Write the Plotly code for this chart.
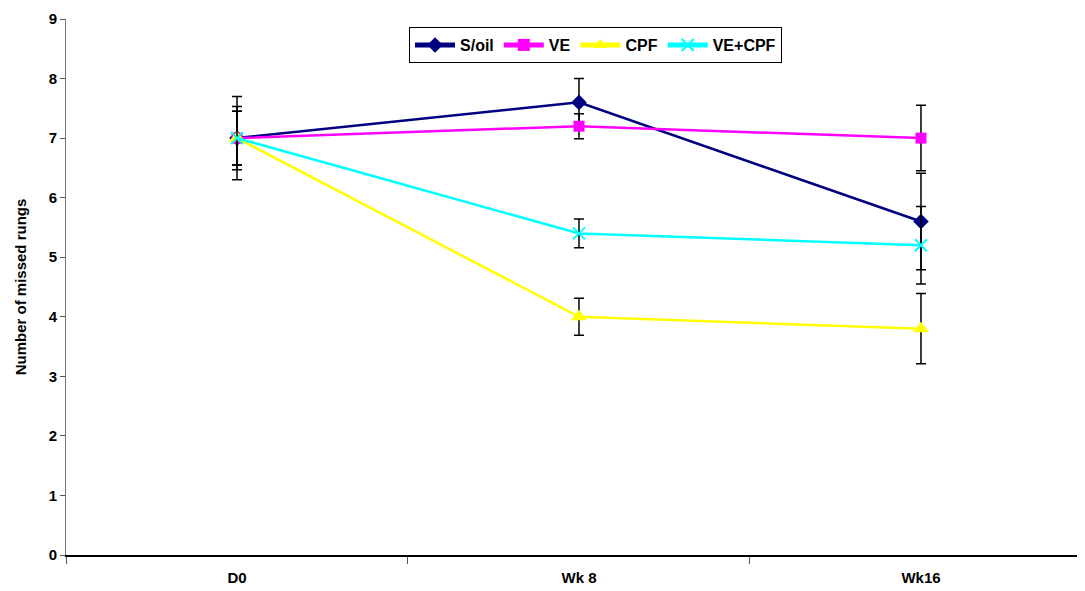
import plotly.graph_objects as go

categories = ["D0", "Wk 8", "Wk16"]
series_names = ["S/oil", "VE", "CPF", "VE+CPF"]
soil = [7.0, 7.6, 5.6]
ve = [7.0, 7.2, 7.0]
cpf = [7.0, 4.0, 3.8]
ve_cpf = [7.0, 5.4, 5.2]
soil_err = [0.7, 0.4, 0.81]
ve_err = [0.53, 0.21, 0.55]
cpf_err = [0.45, 0.31, 0.59]
ve_cpf_err = [0.45, 0.24, 0.65]

colors = ["#000080", "#FF00FF", "#FFFF00", "#00FFFF"]
symbols = ["diamond", "square", "triangle-up", "x-thin"]
sizes = [12, 11, 14, 12]
values = [soil, ve, cpf, ve_cpf]
errors = [soil_err, ve_err, cpf_err, ve_cpf_err]

fig = go.Figure()
for name, vals, errs, col, sym, sz in zip(series_names, values, errors, colors, symbols, sizes):
    marker = dict(symbol=sym, size=sz, color=col)
    if sym == "x-thin":
        marker = dict(symbol=sym, size=sz, color=col, line=dict(color=col, width=2))
    fig.add_trace(go.Scatter(
        x=categories, y=vals, name=name, mode="lines+markers",
        line=dict(color=col, width=2.5),
        marker=marker,
        error_y=dict(type="data", array=errs, visible=True, color="#000000",
                     thickness=1.5, width=5),
    ))

fig.update_layout(
    width=1085, height=591,
    margin=dict(l=58, r=0, t=11, b=44),
    paper_bgcolor="white", plot_bgcolor="white",
    font=dict(family="Liberation Sans, Arial, sans-serif", size=15, color="black"),
    showlegend=True,
    legend=dict(orientation="h", x=0.334, y=0.985, xanchor="left", yanchor="top",
                bordercolor="black", borderwidth=1, bgcolor="white",
                font=dict(size=16, family="Liberation Sans, Arial, sans-serif", weight="bold"),
                itemwidth=40, tracegroupgap=0, itemsizing="constant"),
)
fig.update_xaxes(
    type="category", range=[-0.5, 2.503], tickson="boundaries",
    showline=True, linecolor="black", linewidth=2,
    ticks="outside", ticklen=7, tickcolor="#555555", tickwidth=1,
    ticklabelstandoff=8,
    tickfont=dict(size=15, weight="bold"), showgrid=False, zeroline=False,
)
fig.update_yaxes(
    range=[0, 9], dtick=1, showline=True, linecolor="#777777", linewidth=1,
    ticks="outside", ticklen=5, tickcolor="#555555",
    tickfont=dict(size=15, weight="bold"), showgrid=False, zeroline=False,
    title=dict(text="Number of missed rungs", font=dict(size=15, weight="bold"), standoff=18),
)

fig.write_html("out.html")
